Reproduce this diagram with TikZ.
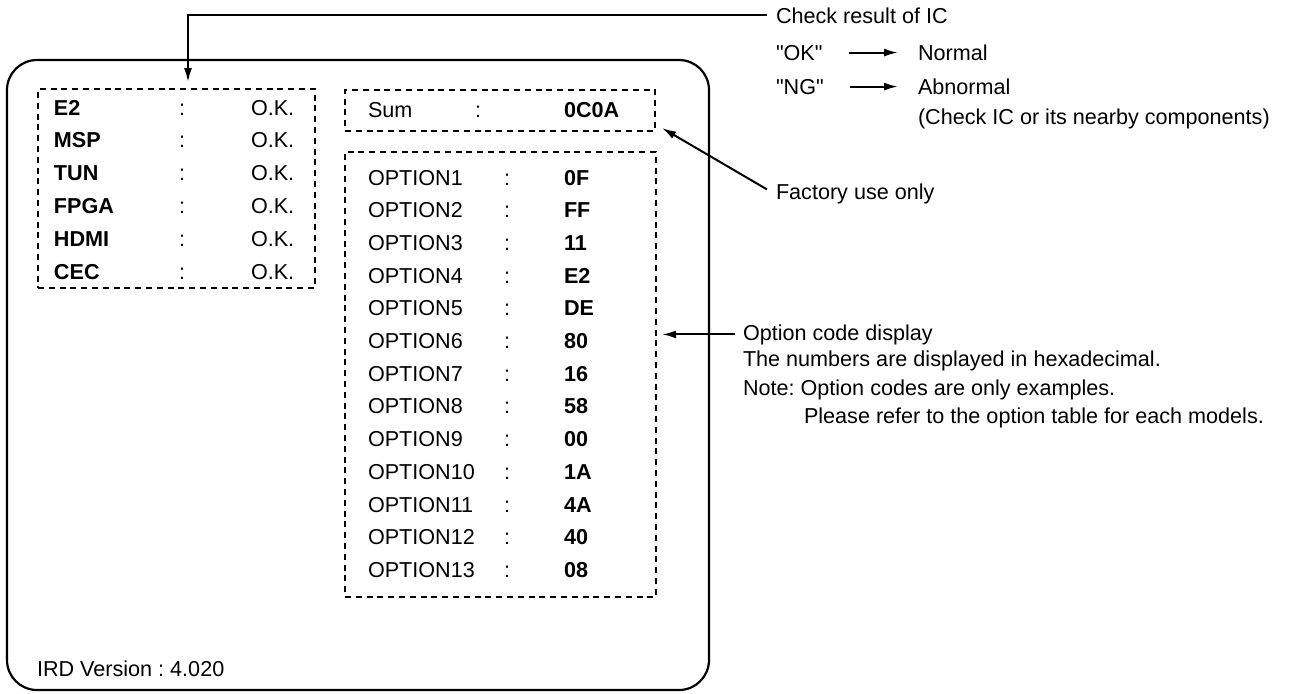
\documentclass[tikz,border=0pt]{standalone}
\usepackage{fontspec}
\setmainfont{Liberation Sans}[Ligatures=TeXOff]
\usetikzlibrary{arrows.meta}

\newcommand{\diagfont}{\fontsize{10.8}{13}\selectfont}
\tikzset{
  txt/.style={anchor=base west, inner sep=0pt, font=\diagfont},
  val/.style={txt, font=\diagfont\bfseries},
  dashbox/.style={draw, dash pattern=on 3pt off 2.4pt, line width=0.9pt, inner sep=0pt, outer sep=0pt},
}

\begin{document}
\frenchspacing
\begin{tikzpicture}[x=0.5pt, y=-0.5pt, line width=1pt, -{Latex[length=7pt,width=4pt]}]
	\useasboundingbox (0,0) rectangle (1289,693);
	\node[draw, -, line width=1.1pt, rounded corners=15pt, inner sep=0pt, outer sep=0pt, minimum width=351pt, minimum height=315pt] (screen) at (358,375) {};
	\node[dashbox, minimum width=138.5pt, minimum height=99.5pt] (icbox) at (176.5,188.5) {};
	\node[dashbox, minimum width=155pt, minimum height=20.5pt] (sumbox) at (500,110.5) {};
	\node[dashbox, minimum width=155.5pt, minimum height=222.5pt] (optbox) at (500.5,374.5) {};
	\foreach \ic [count=\i from 0] in {E2,MSP,TUN,FPGA,HDMI,CEC} {
	  \node[val] (ic\i) at (53,115+32.8*\i) {\ic};
	  \node[txt] (iccol\i) at (178,115+32.8*\i) {:};
	  \node[txt] (icres\i) at (250,115+32.8*\i) {O.K.};
	}
	\node[txt] (sum) at (367,117) {Sum};
	\node[txt] (sumcol) at (474,117) {:};
	\node[val] (sumval) at (563,117) {0C0A};
	\foreach \code [count=\i from 1] in {0F,FF,11,E2,DE,80,16,58,00,1A,4A,40,08} {
	  \node[txt] (opt\i) at (367,152.3+32.7*\i) {OPTION\i};
	  \node[txt] (optcol\i) at (503,152.3+32.7*\i) {:};
	  \node[val] (optval\i) at (563,152.3+32.7*\i) {\code};
	}
	\node[txt] (ird) at (36,676) {IRD Version : 4.020};
	\node[txt] (check) at (775,23) {Check result of IC};
	\node[txt] (ok) at (775,60) {"OK"};
	\node[txt] (normal) at (917,60) {Normal};
	\node[txt] (ng) at (775,94) {"NG"};
	\node[txt] (abnormal) at (917,94) {Abnormal};
	\node[txt] (nearby) at (917,124) {(Check IC or its nearby components)};
	\node[txt] (factory) at (775,199) {Factory use only};
	\node[txt] (optcode) at (742,340) {Option code display};
	\node[txt] (hexa) at (742,366) {The numbers are displayed in hexadecimal.};
	\node[txt] (note) at (742,395) {Note: Option codes are only examples.};
	\node[txt] (refer) at (803,423) {Please refer to the option table for each models.};
	\coordinate (ictip) at (188,82);
	\draw ([xshift=-4pt]check.west) -| (ictip);
	\draw[shorten <=12.5pt, shorten >=9.5pt] (ok.east) -- (ok.east -| normal.west);
	\draw[shorten <=12.5pt, shorten >=9.5pt] (ng.east) -- (ng.east -| abnormal.west);
	\draw ([xshift=-4pt,yshift=2pt]factory.west) -- ([xshift=3.5pt,yshift=1.5pt]sumbox.south east);
	\draw ([xshift=-3.5pt]optcode.west) -- ([xshift=3pt]optcode.west -| optbox.east);
\end{tikzpicture}
\end{document}
